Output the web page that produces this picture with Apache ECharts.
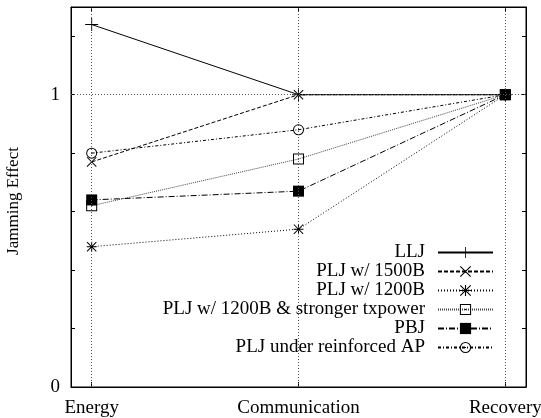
<!DOCTYPE html>
<html><head><meta charset="utf-8">
<script src="https://cdn.jsdelivr.net/npm/echarts@6/dist/echarts.min.js"></script>
<style>html,body{margin:0;padding:0;background:#fff}#c{width:541px;height:418px}</style>
</head><body><div id="c"></div>
<script>
const categories = ['Energy', 'Communication', 'Recovery'];
const seriesNames = ['LLJ', 'PLJ w/ 1500B', 'PLJ w/ 1200B', 'PLJ w/ 1200B & stronger txpower', 'PBJ', 'PLJ under reinforced AP'];
const lljVals = [1.24, 1, 1];
const plj1500Vals = [0.77, 1, 1];
const plj1200Vals = [0.48, 0.54, 1];
const txpowerVals = [0.62, 0.78, 1];
const pbjVals = [0.64, 0.67, 1];
const reinforcedVals = [0.80, 0.88, 1];
const yTickValues = [0, 0.2, 0.4, 0.6, 0.8, 1, 1.2];
const yLabelValues = [0, 1];

const FONT = 'Liberation Serif';
const P_PLUS = 'path://M6.5,0H7.5V6.5H14V7.5H7.5V14H6.5V7.5H0V6.5H6.5Z';
const P_CROSS = 'path://M0.7,0L10,9.3L9.3,10L0,0.7Z M9.3,0L10,0.7L0.7,10L0,9.3Z';
const P_STAR = 'path://M0.7,0L10,9.3L9.3,10L0,0.7Z M9.3,0L10,0.7L0.7,10L0,9.3Z M4.5,0L5.5,0L5.5,10L4.5,10Z M0,5.5L0,4.5L10,4.5L10,5.5Z';
const P_BOX = 'path://M0,0H11V11H0Z M1,1V10H10V1Z M5,5H6V6H5Z';
const P_FBOX = 'path://M0,0H11V11H0Z';
const P_CIRC = 'path://M5.5,0A5.5,5.5 0 1,1 5.5,11A5.5,5.5 0 1,1 5.5,0Z M5.5,1A4.5,4.5 0 1,0 5.5,10A4.5,4.5 0 1,0 5.5,1Z M5,5H6V6H5Z';

const styles = [
  {vals: lljVals, sym: P_PLUS, size: 13, type: 'solid', color: '#000'},
  {vals: plj1500Vals, sym: P_CROSS, size: 10, type: [4, 2], color: '#000'},
  {vals: plj1200Vals, sym: P_STAR, size: 10, type: [1, 2], color: '#000'},
  {vals: txpowerVals, sym: P_BOX, size: 11, type: [1, 1], color: '#444'},
  {vals: pbjVals, sym: P_FBOX, size: 11, type: [6, 2, 1, 2], color: '#000'},
  {vals: reinforcedVals, sym: P_CIRC, size: 11, type: [3, 2, 1, 2], color: '#000'}
];

const legendRowsY = [252, 271, 290, 309, 328, 347];

const series = styles.map((s, k) => ({
  name: seriesNames[k],
  type: 'line',
  data: s.vals.map((v, i) => [i, v]),
  symbol: s.sym,
  symbolSize: s.size,
  showAllSymbol: true,
  itemStyle: {color: '#000'},
  lineStyle: {color: s.color, width: 1, type: s.type},
  emphasis: {disabled: true},
  z: 3
}));

series.push({
  type: 'line', data: [], silent: true,
  markLine: {
    silent: true, symbol: 'none', animation: false,
    label: {show: false},
    lineStyle: {color: '#555', width: 1, type: [1, 2]},
    data: [{xAxis: 0}, {xAxis: 1}, {xAxis: 2}, {yAxis: 1}]
  }
});

const legends = seriesNames.map((n, k) => ({
  data: [n],
  right: 47,
  top: legendRowsY[k] - 9,
  padding: 0,
  align: 'right',
  itemWidth: 55,
  itemHeight: 14,
  selectedMode: false,
  textStyle: {fontFamily: FONT, fontSize: 19, color: '#000', padding: [0, 8, 0, 0]}
}));

const chart = echarts.init(document.getElementById('c'), null, {renderer: 'canvas'});
chart.setOption({
  animation: false,
  backgroundColor: '#fff',
  grid: {left: 71, right: 15, top: 7, bottom: 31, show: true, borderColor: '#000', borderWidth: 1, outerBoundsMode: 'none', containLabel: false},
  legend: legends,
  xAxis: [{
    type: 'value', min: -0.1, max: 2.1, position: 'bottom',
    axisLine: {show: true, onZero: false, lineStyle: {color: '#000'}},
    axisTick: {show: true, inside: true, length: 5, lineStyle: {color: '#000'}, customValues: [0, 1, 2]},
    axisLabel: {customValues: [0, 1, 2], formatter: v => categories[Math.round(v)], fontFamily: FONT, fontSize: 19, color: '#000', margin: 12, hideOverlap: false},
    splitLine: {show: false}
  }, {
    type: 'value', min: -0.1, max: 2.1, position: 'top',
    axisLine: {show: true, onZero: false, lineStyle: {color: '#000'}},
    axisTick: {show: true, inside: true, length: 5, lineStyle: {color: '#000'}, customValues: [0, 1, 2]},
    axisLabel: {show: false}, splitLine: {show: false}
  }],
  yAxis: [{
    type: 'value', min: 0, max: 1.3, position: 'left',
    name: 'Jamming Effect', nameLocation: 'middle', nameRotate: 90, nameGap: 49,
    nameTextStyle: {fontFamily: FONT, fontSize: 17, color: '#000', padding: [0, 0, 0, -8]},
    axisLine: {show: true, onZero: false, lineStyle: {color: '#000'}},
    axisTick: {show: true, inside: true, length: 4, lineStyle: {color: '#000'}, customValues: yTickValues},
    axisLabel: {customValues: yLabelValues, fontFamily: FONT, fontSize: 19, color: '#000', margin: 11},
    splitLine: {show: false}
  }, {
    type: 'value', min: 0, max: 1.3, position: 'right',
    axisLine: {show: true, onZero: false, lineStyle: {color: '#000'}},
    axisTick: {show: true, inside: true, length: 4, lineStyle: {color: '#000'}, customValues: yTickValues},
    axisLabel: {show: false}, splitLine: {show: false}
  }],
  series: series
});
</script></body></html>
